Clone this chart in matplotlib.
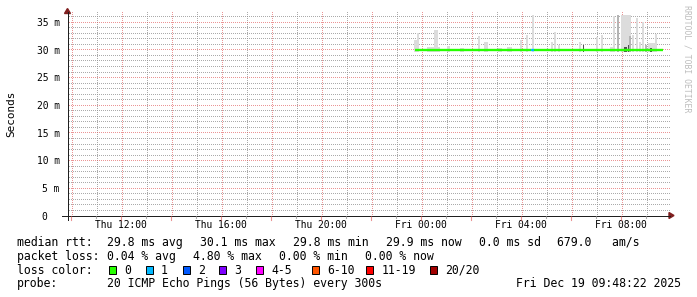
import matplotlib
matplotlib.use("Agg")
import matplotlib.pyplot as plt
import matplotlib.transforms as mtransforms
from matplotlib.patches import Rectangle, Polygon
from matplotlib.lines import Line2D
import numpy as np

# ---- dados (horas relativas a Fri 00:00, valores em ms) ----
x_ticks = [-12, -8, -4, 0, 4, 8]
x_labels = ["Thu 12:00", "Thu 16:00", "Thu 20:00", "Fri 00:00", "Fri 04:00", "Fri 08:00"]
y_ticks = [0, 5, 10, 15, 20, 25, 30, 35]

# fumaça (smoke): inicio, fim, topo
smoke_t0 = [-0.27, -0.17, 0.25, 0.53, 0.67, 1.05, 1.57, 2.27, 2.51, 3.09, 3.43, 3.95, 4.19, 4.43,
            5.19, 5.29, 5.47, 6.29, 6.99, 7.19, 7.55, 7.67, 7.83, 7.97, 8.43, 8.59, 8.69, 8.83,
            9.05, 9.37]
smoke_t1 = [-0.17, -0.07, 0.53, 0.67, 0.77, 1.17, 1.71, 2.35, 2.67, 3.25, 3.65, 4.03, 4.27, 4.51,
            5.27, 5.37, 5.55, 6.37, 7.07, 7.27, 7.67, 7.75, 7.91, 8.39, 8.51, 8.67, 8.77, 8.91,
            9.37, 9.45]
smoke_hi = [31.8, 33.1, 30.6, 33.6, 30.6, 30.7, 30.3, 32.5, 31.4, 30.4, 30.6, 31.8, 32.7, 36.3,
            31.5, 33.2, 30.9, 31.5, 32.3, 32.7, 30.6, 36.1, 36.3, 36.3, 32.7, 35.7, 31.5, 35.1,
            31.3, 32.8]

# camadas mais escuras da fumaça
mid_t0 = [7.83, 8.31, 8.95]
mid_t1 = [7.91, 8.39, 9.03]
mid_hi = [36.3, 32.6, 30.8]
dark_t0 = [6.45, 8.11, 8.27, 9.15]
dark_t1 = [6.51, 8.23, 8.31, 9.23]
dark_hi = [30.9, 30.6, 30.9, 30.4]

# mediana e perda
med_t0 = [-0.25, 4.37, 4.50]
med_t1 = [4.37, 4.50, 9.68]
med_val = [29.9, 29.9, 29.9]
med_loss = ["0", "1", "0"]

loss_names = ["0", "1", "2", "3", "4-5", "6-10", "11-19", "20/20"]
loss_colors = ["#26ff00", "#00b8ff", "#0059ff", "#7e00ff", "#ff00ff", "#ff5500", "#ff0000", "#a10000"]

rtt_items = ["median rtt:", "29.8 ms avg", "30.1 ms max", "29.8 ms min", "29.9 ms now",
             "0.0 ms sd", "679.0   am/s"]
loss_items = ["packet loss:", "0.04 % avg", "4.80 % max", "0.00 % min", "0.00 % now"]
probe_text = "20 ICMP Echo Pings (56 Bytes) every 300s"
stamp_text = "Fri Dec 19 09:48:22 2025"

# ---- figura ----
W, H = 697, 297
fig = plt.figure(figsize=(W / 100, H / 100), dpi=100)
fig.patch.set_facecolor("white")
FONT = "DejaVu Sans Mono"

def fx(p): return p / W
def fy(p): return 1 - p / H

x0, x1 = 67, 667
y0, ytop = 216, 12
ax = fig.add_axes([fx(x0), fy(y0), (x1 - x0) / W, (y0 - ytop) / H])
ax.set_xlim(-14.17, 9.83)
ax.set_ylim(0, 36.85)
ax.axis("off")

grid_c = (0.56, 0.56, 0.56, 0.75)
mgrid_c = (0.87, 0.31, 0.31, 0.6)
arrow_c = (0.5, 0.12, 0.12)
axis_c = (0.12, 0.12, 0.12)
ident = mtransforms.IdentityTransform()

# grade pontilhada, um pixel sim, um não (como o rrdtool)
def dots_h(v, color):
    yd = np.floor(ax.transData.transform((0, v))[1]) + 0.5
    xs = np.arange(x0 + 1, x1 + 2, 2) + 0.5
    ax.plot(xs, np.full(len(xs), yd), ls="none", marker=",", color=color,
            transform=ident, zorder=1, clip_on=False)

def dots_v(h, color):
    xd = np.floor(ax.transData.transform((h, 0))[0]) + 0.5
    ys = np.arange(H - y0 + 1, H - ytop, 2) + 0.5
    ax.plot(np.full(len(ys), xd), ys, ls="none", marker=",", color=color,
            transform=ident, zorder=1, clip_on=False)

for h in range(-14, 10):
    dots_v(h, mgrid_c if h % 2 == 0 else grid_c)
for v in range(1, 37):
    dots_h(v, mgrid_c if v % 5 == 0 else grid_c)

# fumaça
base = 29.7
ax.bar(smoke_t0, [h - base for h in smoke_hi], width=[b - a for a, b in zip(smoke_t0, smoke_t1)],
       bottom=base, align="edge", color="#dcdcdc", lw=0, zorder=2)
ax.bar(mid_t0, [h - base for h in mid_hi], width=[b - a for a, b in zip(mid_t0, mid_t1)],
       bottom=base, align="edge", color="#b4b4b4", lw=0, zorder=3)
ax.bar(dark_t0, [h - base for h in dark_hi], width=[b - a for a, b in zip(dark_t0, dark_t1)],
       bottom=base, align="edge", color="#505050", lw=0, zorder=3)

# mediana colorida pela perda
cmap = dict(zip(loss_names, loss_colors))
for a, b, v, l in zip(med_t0, med_t1, med_val, med_loss):
    ax.plot([a, b], [v, v], color=cmap[l], lw=1.7, solid_capstyle="butt", zorder=4)

# eixos e setas (em pixels)
fig.add_artist(Line2D([fx(x0 + 0.5), fx(x0 + 0.5)], [fy(220), fy(ytop)], color=axis_c, lw=0.72))
fig.add_artist(Line2D([fx(62), fx(670)], [fy(y0 - 0.5), fy(y0 - 0.5)], color=axis_c, lw=0.72))
fig.add_artist(Polygon([[fx(64.5), fy(13.5)], [fx(70.5), fy(13.5)], [fx(67.5), fy(8.5)]],
                       closed=True, color=arrow_c, transform=fig.transFigure))
fig.add_artist(Polygon([[fx(669), fy(212.5)], [fx(669), fy(218.5)], [fx(674), fy(215.5)]],
                       closed=True, color=arrow_c, transform=fig.transFigure))

# marcas abaixo do eixo x
tick_tr = mtransforms.blended_transform_factory(ax.transData, fig.transFigure)
for h in range(-14, 10):
    major = h % 2 == 0
    fig.add_artist(Line2D([h, h], [fy(y0), fy(219.5 if major else 218)],
                          color=mgrid_c if major else grid_c, lw=0.8, transform=tick_tr))

# rótulos dos eixos
for t, lab in zip(x_ticks, x_labels):
    ax.text(t, fy(227.7), lab, transform=tick_tr, ha="center", va="baseline",
            fontsize=6.95, family=FONT)

ylab_tr = mtransforms.offset_copy(
    mtransforms.blended_transform_factory(fig.transFigure, ax.transData),
    fig=fig, y=-3.8, units="dots")
for v in y_ticks:
    if v == 0:
        ax.text(fx(46.9), v, "0", transform=ylab_tr, ha="right", va="baseline",
                fontsize=6.95, family=FONT)
    else:
        ax.text(fx(59.5), v, f"{v} m", transform=ylab_tr, ha="right", va="baseline",
                fontsize=6.95, family=FONT)

fig.text(fx(11), fy(113.7), "Seconds", rotation=90, ha="center", va="center",
         fontsize=7.9, family=FONT)
fig.text(fx(686.5), fy(5), "RRDTOOL / TOBI OETIKER", rotation=270, ha="center", va="top",
         fontsize=5.9, family=FONT, color="#bdbdbd")

# legenda
rtt_x = [16.7, 107.3, 200, 293.3, 386, 478.6, 557.3]
for xx, s in zip(rtt_x, rtt_items):
    fig.text(fx(xx), fy(245.7), s, fontsize=8.3, family=FONT, va="baseline")
loss_x = [16.7, 107.3, 193.3, 279.3, 365]
for xx, s in zip(loss_x, loss_items):
    fig.text(fx(xx), fy(259.6), s, fontsize=8.3, family=FONT, va="baseline")

fig.text(fx(16.7), fy(273.5), "loss color:", fontsize=8.3, family=FONT, va="baseline")
box_x = [108.7, 145.7, 182.7, 219.3, 256, 312.3, 366, 430]
for bx, name, col in zip(box_x, loss_names, loss_colors):
    fig.add_artist(Rectangle((fx(bx), fy(273.5)), 7 / W, 7.5 / H, facecolor=col,
                             edgecolor="black", lw=0.7, transform=fig.transFigure))
    fig.text(fx(bx + 15.3), fy(273.5), name, fontsize=8.3, family=FONT, va="baseline")

fig.text(fx(16.7), fy(287.4), "probe:", fontsize=8.3, family=FONT, va="baseline")
fig.text(fx(107.3), fy(287.4), probe_text, fontsize=8.3, family=FONT, va="baseline")
fig.text(fx(680.6), fy(287.4), stamp_text, fontsize=8.3, family=FONT, va="baseline", ha="right")

fig.savefig("out.png", dpi=100)
